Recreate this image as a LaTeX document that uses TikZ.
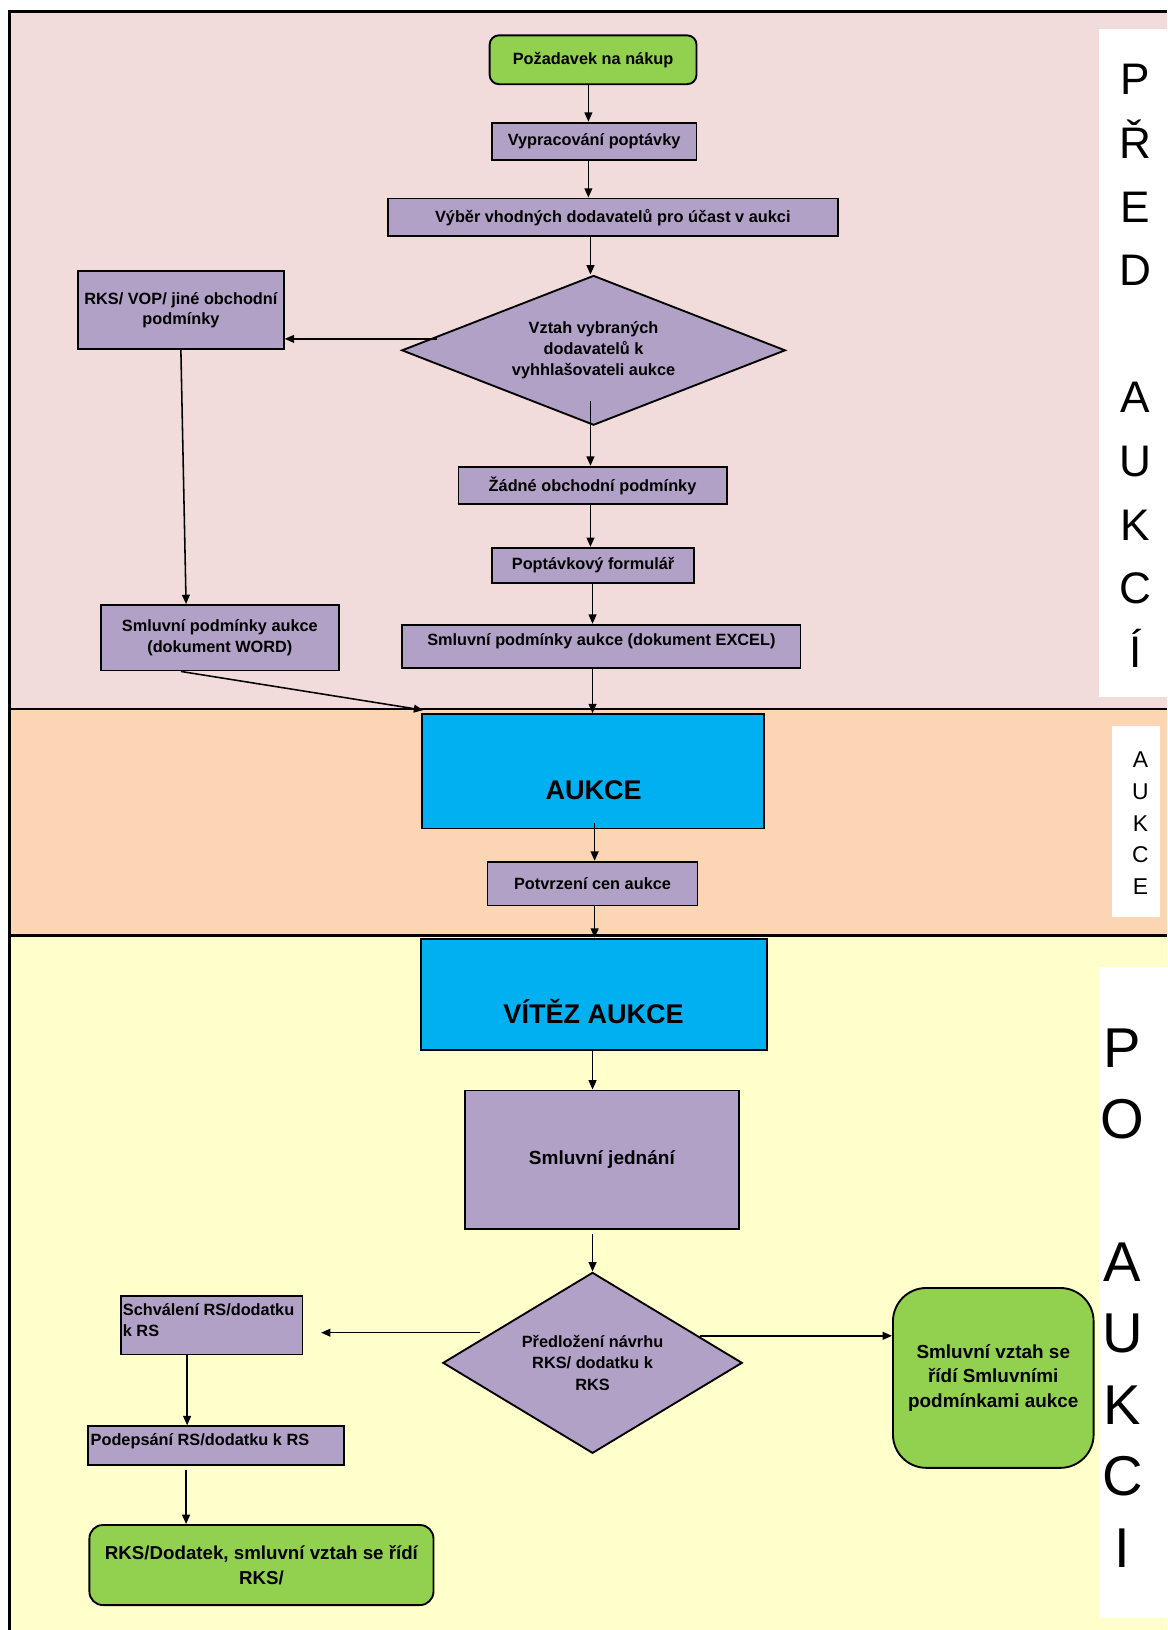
\documentclass[tikz,border=0pt]{standalone}
\usepackage{fontspec}
\setmainfont{Liberation Sans}
\usetikzlibrary{shapes.geometric,arrows.meta,calc}
\definecolor{purp}{HTML}{B2A1C7}
\definecolor{grn}{HTML}{92D050}
\definecolor{cyanbox}{HTML}{00B0F0}
\definecolor{bgpink}{HTML}{F2DCDB}
\definecolor{bgpeach}{HTML}{FCD5B5}
\definecolor{bgyellow}{HTML}{FFFFCC}
\begin{document}
\begin{tikzpicture}[x=1pt,y=-1pt,
  box/.style={draw=black,line width=1.8pt,fill=purp,inner sep=0pt,align=center,
    font=\bfseries\fontsize{15.7}{20}\selectfont},
  gbox/.style={box,fill=grn,rounded corners=9pt},
  cbox/.style={draw=black,line width=1.8pt,fill=cyanbox,inner sep=0pt},
  dia/.style={diamond,draw=black,line width=1.8pt,fill=purp,inner sep=0pt,align=center,
    font=\bfseries\fontsize{15.7}{20.5}\selectfont},
  txt/.style={inner sep=0pt,align=center},
  lab/.style={fill=white,draw=none,inner sep=0pt},
  arr/.style={-{Triangle[length=9pt,width=7.5pt]},line width=1.5pt}]
\useasboundingbox (0,0) rectangle (1123,1568);
% backgrounds
\fill[bgpink] (9,11) rectangle (1123,682);
\fill[bgpeach] (9,682) rectangle (1123,900);
\fill[bgyellow] (9,900) rectangle (1123,1568);
\draw[line width=2.6pt] (9,1568) -- (9,11) -- (1123,11);
\draw[line width=2.6pt] (9,682) -- (1123,682);
\draw[line width=2.6pt] (9,900) -- (1123,900);
% side labels
\node[lab,minimum width=66pt,minimum height=642pt] (lab1) at (1090,349) {};
\node[txt,font=\fontsize{42.5}{61.2}\selectfont] (lab1t) at (1092,352) {P\\Ř\\E\\D\\[61.2pt]A\\U\\K\\C\\Í};
\node[lab,minimum width=46pt,minimum height=184pt] (lab2) at (1093,790) {};
\node[txt,font=\fontsize{22}{30.5}\selectfont] (lab2t) at (1097,792) {A\\U\\K\\C\\E};
\node[lab,minimum width=66pt,minimum height=626pt] (lab3) at (1090,1243) {};
\node[txt,font=\fontsize{54}{68.7}\selectfont] (lab3t) at (1080,1248.5) {P\\O\\[68.7pt]A\\U\\K\\C\\I};
% top section
\node[gbox,minimum width=199pt,minimum height=47pt] (req) at (570.5,57.5) {Požadavek na nákup};
\node[box,minimum width=197pt,minimum height=36pt] (vyp) at (571.5,136) {Vypracování poptávky};
\node[box,minimum width=433pt,minimum height=36pt] (vyb) at (589.5,209) {Výběr vhodných dodavatelů pro účast v aukci};
\node[dia,aspect=2.56,minimum width=369pt,minimum height=144pt] (d1) at (571,337) {Vztah vybraných\\dodavatelů k\\vyhhlašovateli aukce};
\node[box,minimum width=198pt,minimum height=75pt] (rks) at (174,298.5) {RKS/ VOP/ jiné obchodní\\podmínky};
\node[box,minimum width=258pt,minimum height=36pt] (zad) at (570,467) {Žádné obchodní podmínky};
\node[box,minimum width=195pt,minimum height=34pt] (pop) at (570.5,544) {Poptávkový formulář};
\node[box,minimum width=383pt,minimum height=42pt] (exc) at (578.5,622) {};
\node[txt,font=\bfseries\fontsize{15.7}{20}\selectfont] (exct) at (578.5,617) {Smluvní podmínky aukce (dokument EXCEL)};
\node[box,minimum width=229pt,minimum height=63pt] (word) at (211.5,613.5) {Smluvní podmínky aukce\\(dokument WORD)};
% middle section
\node[cbox,minimum width=329pt,minimum height=110pt] (auk) at (570.5,742) {};
\node[txt,font=\bfseries\fontsize{26}{30}\selectfont] (aukt) at (571,760) {AUKCE};
\node[box,minimum width=202pt,minimum height=42pt] (pot) at (570,850) {Potvrzení cen aukce};
% bottom section
\node[cbox,minimum width=333pt,minimum height=107pt] (vit) at (571.5,956.5) {};
\node[txt,font=\bfseries\fontsize{26}{30}\selectfont] (vitt) at (571,973) {VÍTĚZ AUKCE};
\node[box,minimum width=264pt,minimum height=133pt,font=\bfseries\fontsize{18.3}{22}\selectfont] (jed) at (579,1115.5) {Smluvní jednání};
\node[dia,aspect=1.655,minimum width=288pt,minimum height=174pt] (d2) at (570,1311) {Předložení návrhu\\RKS/ dodatku k\\RKS};
\node[box,minimum width=175pt,minimum height=56pt] (sch) at (203.5,1275) {};
\node[txt,align=left,anchor=north west,font=\bfseries\fontsize{15.7}{20}\selectfont] (scht) at (118,1254) {Schválení RS/dodatku\\k RS};
\node[box,minimum width=246pt,minimum height=37pt] (pod) at (208,1390.5) {};
\node[txt,anchor=west,font=\bfseries\fontsize{15.7}{20}\selectfont] (podt) at (87,1386) {Podepsání RS/dodatku k RS};
\node[gbox,minimum width=331pt,minimum height=77pt,rounded corners=13pt,font=\bfseries\fontsize{18}{24}\selectfont] (fin1) at (251.5,1505.5) {RKS/Dodatek, smluvní vztah se řídí\\RKS/};
\node[gbox,minimum width=193pt,minimum height=173pt,rounded corners=32pt,font=\bfseries\fontsize{18.2}{23.5}\selectfont] (fin2) at (955.5,1325.5) {Smluvní vztah se\\řídí Smluvními\\podmínkami aukce};
% helper x positions
\coordinate (xa) at (566,0);
\coordinate (xb) at (568,0);
\coordinate (xc) at (570,0);
\coordinate (xd) at (572,0);
\coordinate (xe) at (180,0);
\coordinate (xf) at (179,0);
% connectors
\draw[arr] (req.south -| xa) -- (vyp.north -| xa);
\draw[arr] (vyp.south -| xa) -- (vyb.north -| xa);
\draw[arr] (vyb.south -| xb) -- (d1.north -| xb);
\draw[arr] ([shift={(35pt,11pt)}]d1.west) coordinate (s1) -- (s1 -| rks.east);
\draw[arr] ([yshift=24pt]d1.south -| xb) -- (zad.north -| xb);
\draw[arr] (zad.south -| xb) -- (pop.north -| xb);
\draw[arr] (pop.south -| xc) -- (exc.north -| xc);
\draw[arr] (exc.south -| xc) -- (auk.north -| xc);
\draw[arr] (rks.south) -- ([xshift=-32.5pt]word.north);
\draw[arr] ([xshift=-37.5pt]word.south) -- ([shift={(2pt,3pt)}]auk.north west);
\draw[arr] ([yshift=6pt]auk.south -| xd) -- (pot.north -| xd);
\draw[arr] (pot.south -| xd) -- (vit.north -| xd);
\draw[arr] (vit.south -| xc) -- (jed.north -| xc);
\draw[arr] ([yshift=-4pt]jed.south -| d2.north) -- (d2.north);
\draw[arr] ([shift={(37pt,29pt)}]d2.west) coordinate (s2) -- ([xshift=17pt]s2 -| sch.east);
\draw[arr] ([shift={(-42pt,26pt)}]d2.east) coordinate (s3) -- (s3 -| fin2.west);
\draw[arr] (sch.south -| xe) -- (pod.north -| xe);
\draw[arr] ([yshift=-4pt]pod.south -| xf) -- (fin1.north -| xf);
\end{tikzpicture}
\end{document}
